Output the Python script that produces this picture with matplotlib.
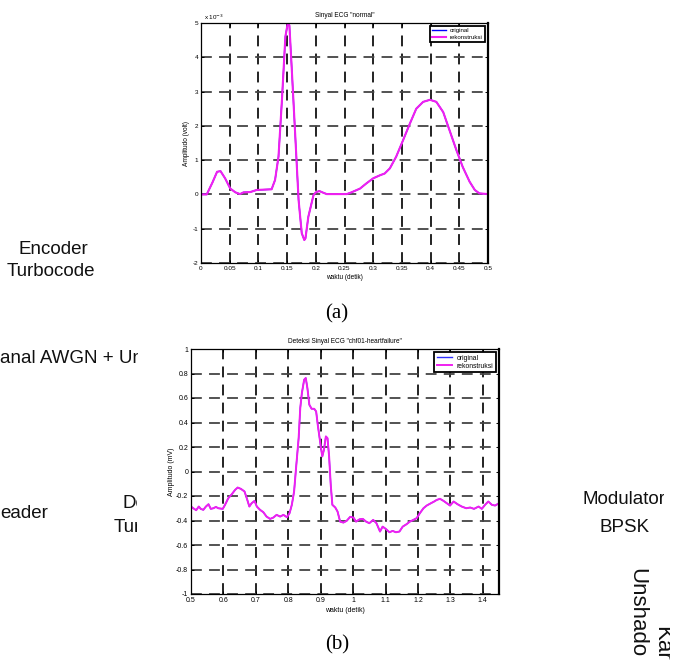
import matplotlib
matplotlib.use("Agg")
import matplotlib.pyplot as plt
from matplotlib.ticker import FixedLocator, FixedFormatter
from matplotlib.transforms import Bbox, TransformedBbox

plt.rc("font", family=["Liberation Sans", "DejaVu Sans"])

W, H = 683, 660

# ---- data (a): normal ECG, amplitude in 1e-3 volt ----
t_normal = [0, 0.01, 0.02, 0.028, 0.034, 0.042, 0.051, 0.06, 0.068, 0.074, 0.086,
            0.097, 0.123, 0.129, 0.135, 0.141, 0.147, 0.151, 0.154, 0.158, 0.164,
            0.17, 0.1755, 0.18, 0.182, 0.187, 0.196, 0.2, 0.206, 0.213, 0.219,
            0.254, 0.262, 0.277, 0.288, 0.3, 0.312, 0.32, 0.329, 0.34, 0.352,
            0.364, 0.375, 0.387, 0.399, 0.41, 0.422, 0.433, 0.445, 0.456, 0.468,
            0.477, 0.485, 0.5]
v_normal = [0, 0.0, 0.35, 0.66, 0.68, 0.47, 0.17, 0.06, 0.01, 0.06, 0.07,
            0.13, 0.15, 0.42, 1.1, 2.75, 4.6, 4.98, 4.93, 3.7, 1.78,
            -0.16, -1.13, -1.33, -1.28, -0.65, -0.02, 0.06, 0.1, 0.05, 0.01,
            0.01, 0.06, 0.17, 0.32, 0.47, 0.56, 0.61, 0.76, 1.1, 1.58,
            2.07, 2.5, 2.7, 2.76, 2.7, 2.4, 1.87, 1.29, 0.8, 0.37,
            0.13, 0.03, 0.01]
v_normal_orig = [v * 1e-3 for v in v_normal]
v_normal_rekon = [v * 1e-3 for v in v_normal]

# ---- data (b): chf01 heart failure, amplitude in mV ----
t_chf = [0.5, 0.507, 0.516, 0.524, 0.53, 0.538, 0.546, 0.554, 0.561, 0.569, 0.577,
         0.584, 0.598, 0.605, 0.615, 0.626, 0.636, 0.644, 0.654, 0.665, 0.672,
         0.68, 0.687, 0.696, 0.703, 0.713, 0.723, 0.733, 0.744, 0.754, 0.764,
         0.775, 0.785, 0.796, 0.804, 0.811, 0.818, 0.824, 0.832, 0.837, 0.842,
         0.849, 0.854, 0.859, 0.865, 0.872, 0.88, 0.886, 0.891, 0.896, 0.901,
         0.905, 0.91, 0.916, 0.921, 0.926, 0.931, 0.936, 0.945, 0.952, 0.96,
         0.97, 0.98, 0.991, 1.001, 1.009, 1.02, 1.03, 1.04, 1.05, 1.062,
         1.072, 1.083, 1.091, 1.101, 1.112, 1.122, 1.132, 1.143, 1.153, 1.165,
         1.175, 1.186, 1.196, 1.206, 1.217, 1.227, 1.24, 1.25, 1.258, 1.268,
         1.279, 1.289, 1.299, 1.31, 1.322, 1.335, 1.349, 1.361, 1.373, 1.387,
         1.397, 1.407, 1.417, 1.428, 1.438, 1.45]
v_chf = [-0.286, -0.30, -0.316, -0.286, -0.305, -0.313, -0.286, -0.267, -0.305, -0.30, -0.289,
         -0.30, -0.305, -0.272, -0.218, -0.185, -0.15, -0.131, -0.142, -0.163, -0.218,
         -0.286, -0.259, -0.24, -0.286, -0.313, -0.332, -0.368, -0.387, -0.376, -0.354,
         -0.368, -0.354, -0.373, -0.34, -0.272, -0.163, 0.027, 0.272, 0.518, 0.64,
         0.749, 0.763, 0.681, 0.545, 0.512, 0.512, 0.49, 0.381, 0.286, 0.19,
         0.123, 0.177, 0.286, 0.272, 0.123, -0.109, -0.272, -0.294, -0.327, -0.409,
         -0.417, -0.403, -0.37, -0.376, -0.409, -0.39, -0.387, -0.409, -0.422, -0.395,
         -0.422, -0.49, -0.45, -0.469, -0.496, -0.485, -0.496, -0.49, -0.45, -0.43,
         -0.409, -0.395, -0.381, -0.34, -0.30, -0.278, -0.259, -0.245, -0.232, -0.223,
         -0.24, -0.259, -0.278, -0.245, -0.267, -0.286, -0.30, -0.294, -0.305, -0.286,
         -0.305, -0.272, -0.245, -0.272, -0.278, -0.259]
v_chf_orig = v_chf
v_chf_rekon = v_chf

xt_a = [0, 0.05, 0.1, 0.15, 0.2, 0.25, 0.3, 0.35, 0.4, 0.45, 0.5]
xl_a = ["0", "0.05", "0.1", "0.15", "0.2", "0.25", "0.3", "0.35", "0.4", "0.45", "0.5"]
yt_a = [-2e-3, -1e-3, 0, 1e-3, 2e-3, 3e-3, 4e-3, 5e-3]
yl_a = ["-2", "-1", "0", "1", "2", "3", "4", "5"]
xt_b = [0.5, 0.6, 0.7, 0.8, 0.9, 1.0, 1.1, 1.2, 1.3, 1.4]
xl_b = ["0.5", "0.6", "0.7", "0.8", "0.9", "1", "1.1", "1.2", "1.3", "1.4"]
yt_b = [-1, -0.8, -0.6, -0.4, -0.2, 0, 0.2, 0.4, 0.6, 0.8, 1]
yl_b = ["-1", "-0.8", "-0.6", "-0.4", "-0.2", "0", "0.2", "0.4", "0.6", "0.8", "1"]

fig = plt.figure(figsize=(W / 100, H / 100), dpi=100)


def pix_axes(x0, y0, x1, y1):
    return fig.add_axes([x0 / W, 1 - y1 / H, (x1 - x0) / W, (y1 - y0) / H])


def matlab_style(ax, xt, xl, yt, yl, fs):
    ax.xaxis.set_major_locator(FixedLocator(xt))
    ax.xaxis.set_major_formatter(FixedFormatter(xl))
    ax.yaxis.set_major_locator(FixedLocator(yt))
    ax.yaxis.set_major_formatter(FixedFormatter(yl))
    ax.tick_params(direction="in", length=2.5, width=0.7, labelsize=fs, pad=2,
                   top=True, right=True)
    ax.set_axisbelow(True)
    ax.xaxis.grid(True, color="#111111", linestyle=(0, (6, 4)), linewidth=1.3)
    ax.yaxis.grid(True, color="#444444", linestyle=(0, (6, 4)), linewidth=1.3)
    for s in ax.spines.values():
        s.set_linewidth(0.9)
    ax.spines["right"].set_linewidth(1.6)


def legend_box(ax, fs):
    leg = ax.legend(loc="upper right", fontsize=fs, handlelength=2.3,
                    handletextpad=0.6, borderpad=0.35, labelspacing=0.15,
                    borderaxespad=0.5, fancybox=False, framealpha=1,
                    edgecolor="black")
    leg.get_frame().set_linewidth(1.3)


# ---- (a) ----
ax1 = pix_axes(201, 23, 488, 263)
ax1.plot(t_normal, v_normal_orig, color="#0000ff", linewidth=1.0, label="original")
ax1.plot(t_normal, v_normal_rekon, color="#f020f0", linewidth=1.5, label="rekonstruksi")
ax1.set_xlim(0, 0.5)
ax1.set_ylim(-2e-3, 5e-3)
matlab_style(ax1, xt_a, xl_a, yt_a, yl_a, 4.6)
ax1.set_title('Sinyal ECG "normal"', fontsize=4.7, pad=4)
ax1.set_xlabel("waktu (detik)", fontsize=4.7, labelpad=2)
ax1.set_ylabel("Amplitudo (volt)", fontsize=4.7, labelpad=2)
ax1.text(0.01, 1.004, r"x 10$^{-3}$", transform=ax1.transAxes, fontsize=4.5,
         va="bottom", ha="left")
legend_box(ax1, 4.4)

# ---- (b) ----
ax2 = pix_axes(191, 349, 499, 594)
ax2.plot(t_chf, v_chf_orig, color="#3030ff", linewidth=1.0, label="original")
ax2.plot(t_chf, v_chf_rekon, color="#f020f0", linewidth=1.4, label="rekonstruksi")
ax2.set_xlim(0.5, 1.45)
ax2.set_ylim(-1, 1)
matlab_style(ax2, xt_b, xl_b, yt_b, yl_b, 5.0)
ax2.set_title('Deteksi Sinyal ECG "chf01-heartfailure"', fontsize=4.7, pad=4)
ax2.set_xlabel("waktu (detik)", fontsize=5.0, labelpad=2)
ax2.set_ylabel("Amplitudo (mV)", fontsize=5.0, labelpad=1)
legend_box(ax2, 4.9)

# ---- captions ----
fig.text(337 / W, 1 - 314 / H, "(a)", fontsize=15, family="Liberation Serif",
         ha="center", va="center")
fig.text(337 / W, 1 - 645 / H, "(b)", fontsize=15, family="Liberation Serif",
         ha="center", va="center")


# ---- page background text (partly hidden behind the figures) ----
def page_text(x, y, s, clip=None, size=13.5, **kw):
    t = fig.text(x / W, 1 - y / H, s, fontsize=size, color="#111111", **kw)
    if clip is not None:
        x0, y0, x1, y1 = clip
        t.set_clip_box(TransformedBbox(
            Bbox.from_extents(x0 / W, 1 - y1 / H, x1 / W, 1 - y0 / H), fig.transFigure))
        t.set_clip_on(True)
    return t


page_text(53, 250, "Encoder", ha="center", va="center")
page_text(51, 272, "Turbocode", ha="center", va="center")
page_text(0, 358, "anal AWGN + Un", ha="left", va="center", clip=(0, 330, 138, 380))
page_text(0, 514, "eader", ha="left", va="center")
page_text(122, 504, "De", ha="left", va="center", clip=(0, 480, 137, 540))
page_text(114, 527, "Tur", ha="left", va="center", clip=(0, 480, 137, 540))
page_text(583, 500, "Modulator", ha="left", va="center", clip=(560, 480, 664, 520))
page_text(625, 527, "BPSK", ha="center", va="center")
page_text(637, 568, "Unshado", size=16, rotation=270, ha="center", va="top")
page_text(662, 626, "Kar", size=16, rotation=270, ha="center", va="top",
          clip=(640, 600, 670, 660))

fig.savefig("out.png", dpi=100, facecolor="white")
